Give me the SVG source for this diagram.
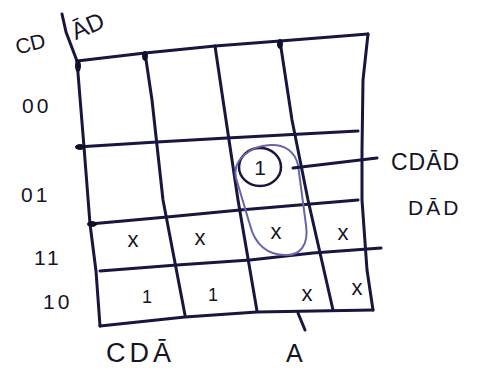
<svg xmlns="http://www.w3.org/2000/svg" width="501" height="370" viewBox="0 0 501 370">
<style>
.g{fill:none;stroke:#16163e;stroke-width:3;stroke-linecap:round;stroke-linejoin:round}
.t{font-family:"Liberation Sans",Arial,sans-serif;fill:#151525}
.row{font-size:21px;letter-spacing:3px}
.x{font-size:22px}
.one{font-size:18px}
.loop{fill:none;stroke:#6b63a8;stroke-width:2}
.dot{fill:#10102a}
</style>
<rect width="501" height="370" fill="#ffffff"/>
<g id="grid">
<path class="g" d="M62,14 L66,32 L77,61"/>
<path class="g" d="M77,61 L145,53 L215,46 L280,41 L368,34"/>
<path class="g" d="M77,147 L157,142 L227,138 L358,131"/>
<path class="g" d="M90,224 L167,217 L240,210 L358,200"/>
<path class="g" d="M100,271 L177,265 L250,260 L313,253 L381,248"/>
<path class="g" d="M100,326 L185,317 L257,312 L373,310"/>
<path class="g" d="M77,61 L84,147 L90,224 L96,271 L100,326"/>
<path class="g" d="M145,53 L152,100 L163,200 L185,315"/>
<path class="g" d="M215,46 L223,100 L238,200 L257,311"/>
<path class="g" d="M280,41 L292,120 L308,200 L333,310"/>
<path class="g" d="M368,34 L363,80 L362,150 L362,200 L367,270 L373,310"/>
<ellipse class="dot" cx="145" cy="56" rx="3" ry="5"/>
<ellipse class="dot" cx="280" cy="44" rx="3" ry="5"/>
<ellipse class="dot" cx="78" cy="66" rx="3" ry="6"/>
<ellipse class="dot" cx="80" cy="147" rx="5" ry="3"/>
<ellipse class="dot" cx="92" cy="224" rx="5" ry="3"/>
</g>
<g id="header">
<text class="t" font-size="21" x="15" y="51" transform="rotate(-14 30 43)">CD</text>
<text class="t" font-size="24" x="70" y="33" transform="rotate(-24 90 23)">ĀD</text>
</g>
<g id="rows">
<text class="t row" x="22" y="113">00</text>
<text class="t row" x="21" y="202">01</text>
<text class="t row" x="34" y="265">11</text>
<text class="t row" x="43" y="309">10</text>
</g>
<g id="cells">
<text class="t x" x="133" y="247" text-anchor="middle">x</text>
<text class="t x" x="200" y="245" text-anchor="middle">x</text>
<text class="t x" x="276" y="239" text-anchor="middle">x</text>
<text class="t x" x="343" y="240" text-anchor="middle">x</text>
<text class="t one" x="147" y="303" text-anchor="middle">1</text>
<text class="t one" x="213" y="301" text-anchor="middle">1</text>
<text class="t x" x="307" y="301" text-anchor="middle">x</text>
<text class="t x" x="357" y="295" text-anchor="middle">x</text>
</g>
<g id="term">
<ellipse cx="260" cy="167" rx="21" ry="19" fill="none" stroke="#16163e" stroke-width="2.5"/>
<text class="t" x="260" y="175" font-size="21" text-anchor="middle">1</text>
<path class="loop" d="M270,145 C285,144 295,152 298,165 L306,225 C309,245 300,256 285,255 C268,255 255,245 250,225 L236,178 C232,160 250,146 270,145 Z"/>
</g>
<g id="connectors">
<path class="g" d="M293,168 L377,158" stroke-width="2.5"/>
<path class="g" d="M298,313 L305,330" stroke-width="2"/>
</g>
<g id="labels">
<text class="t" font-size="23" letter-spacing="1" x="391" y="170">CDĀD</text>
<text class="t" font-size="21" letter-spacing="3" x="408" y="215">DĀD</text>
<text class="t" font-size="27" letter-spacing="4" x="106" y="362">CDĀ</text>
<text class="t" font-size="25" x="286" y="362">A</text>
</g>
</svg>
